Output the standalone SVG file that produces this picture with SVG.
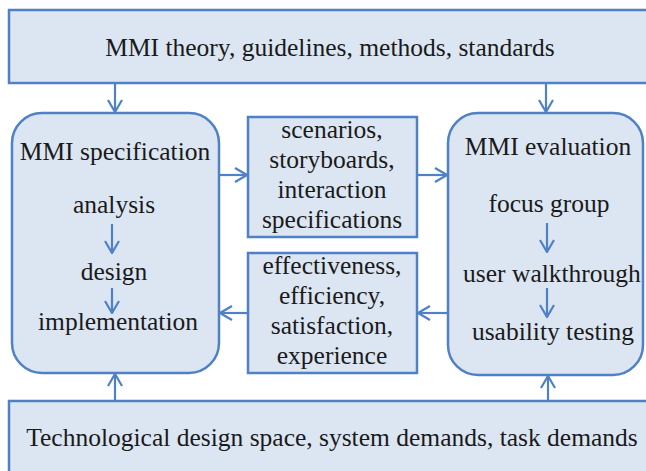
<svg xmlns="http://www.w3.org/2000/svg" width="646" height="471" viewBox="0 0 646 471">
<style>
.box{fill:#dce6f2;stroke:#4f81c6;stroke-width:2.5}
.c{fill:none;stroke:#4f81c6;stroke-width:2.2;marker-end:url(#ah)}
</style>
<defs>
<marker id="ah" markerUnits="userSpaceOnUse" viewBox="0 0 14 16" refX="13" refY="8" markerWidth="14" markerHeight="16" orient="auto">
<path d="M1,1 L13,8 L1,15" fill="none" stroke="#4f81c6" stroke-width="2.2"/>
</marker>
</defs>
<rect width="646" height="471" fill="#ffffff"/>
<g fill="#1a1a1a" text-anchor="middle">
<g id="theory">
<rect class="box" x="9" y="10" width="650" height="73"/>
<text x="330" y="56" font-family="Liberation Serif" font-size="25.5">MMI theory, guidelines, methods, standards</text>
</g>
<g id="spec">
<rect class="box" x="12" y="113" width="207" height="260" rx="30" ry="30"/>
<text x="115" y="160" font-family="Liberation Serif" font-size="25.5">MMI specification</text>
<text x="114" y="213" font-family="Liberation Serif" font-size="25.5">analysis</text>
<text x="114" y="280" font-family="Liberation Serif" font-size="25.5">design</text>
<text x="118" y="330" font-family="Liberation Serif" font-size="25.5">implementation</text>
</g>
<g id="artifacts">
<rect class="box" x="248" y="117" width="169" height="120"/>
<text x="332" y="138" font-family="Liberation Serif" font-size="25.5">scenarios,</text>
<text x="332" y="168" font-family="Liberation Serif" font-size="25.5">storyboards,</text>
<text x="332" y="198" font-family="Liberation Serif" font-size="25.5">interaction</text>
<text x="332" y="228" font-family="Liberation Serif" font-size="25.5">specifications</text>
</g>
<g id="metrics">
<rect class="box" x="248" y="253" width="169" height="120"/>
<text x="332" y="274" font-family="Liberation Serif" font-size="25.5">effectiveness,</text>
<text x="332" y="304" font-family="Liberation Serif" font-size="25.5">efficiency,</text>
<text x="332" y="334" font-family="Liberation Serif" font-size="25.5">satisfaction,</text>
<text x="332" y="364" font-family="Liberation Serif" font-size="25.5">experience</text>
</g>
<g id="eval">
<rect class="box" x="448" y="113" width="195" height="262" rx="30" ry="30"/>
<text x="548" y="155" font-family="Liberation Serif" font-size="25.5">MMI evaluation</text>
<text x="549" y="212" font-family="Liberation Serif" font-size="25.5">focus group</text>
<text x="552" y="282" font-family="Liberation Serif" font-size="25.5">user walkthrough</text>
<text x="553" y="340" font-family="Liberation Serif" font-size="25.5">usability testing</text>
</g>
<g id="tech">
<rect class="box" x="9" y="401" width="650" height="80"/>
<text x="332" y="446" font-family="Liberation Serif" font-size="25.5">Technological design space, system demands, task demands</text>
</g>
</g>
<g id="connectors">
<line class="c" x1="115" y1="83" x2="115" y2="112"/>
<line class="c" x1="546" y1="83" x2="546" y2="112"/>
<line class="c" x1="115" y1="401" x2="115" y2="374"/>
<line class="c" x1="548" y1="401" x2="548" y2="376"/>
<line class="c" x1="219" y1="175" x2="247" y2="175"/>
<line class="c" x1="417" y1="175" x2="447" y2="175"/>
<line class="c" x1="448" y1="313" x2="418" y2="313"/>
<line class="c" x1="248" y1="313" x2="220" y2="313"/>
<line class="c" x1="112" y1="224" x2="112" y2="253"/>
<line class="c" x1="112" y1="288" x2="112" y2="313"/>
<line class="c" x1="547" y1="223" x2="547" y2="252"/>
<line class="c" x1="547" y1="288" x2="547" y2="317"/>
</g>
</svg>
